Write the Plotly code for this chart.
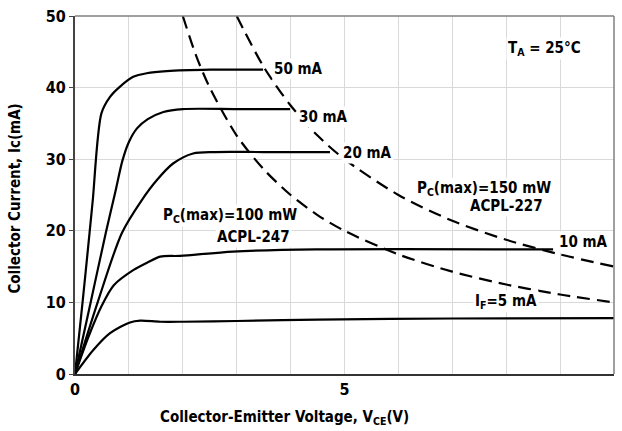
import plotly.graph_objects as go

# ---- data ----
x_50 = [0, 0.14, 0.27, 0.33, 0.49, 0.65, 0.83, 1.08, 1.33, 1.70, 2.5, 3.49]
y_50 = [0, 10, 19.7, 24.3, 36.4, 38.7, 40.1, 41.5, 42.0, 42.3, 42.5, 42.5]

x_30 = [0, 0.29, 0.58, 0.75, 0.88, 1.0, 1.15, 1.35, 1.64, 2.0, 3.0, 3.99]
y_30 = [0, 10, 20, 25.5, 29.8, 32.4, 34.3, 35.6, 36.6, 37.0, 37.0, 37.0]

x_20 = [0, 0.42, 0.87, 1.24, 1.52, 1.82, 2.19, 2.6, 3.5, 4.73]
y_20 = [0, 10, 19.7, 24.3, 27.1, 29.4, 30.8, 31.0, 31.0, 31.0]

x_10 = [0, 0.25, 0.50, 0.72, 1.08, 1.35, 1.58, 1.95, 2.93, 4.48, 8.87]
y_10 = [0, 5.2, 9.6, 12.4, 14.5, 15.6, 16.4, 16.5, 17.1, 17.4, 17.4]

x_5 = [0, 0.34, 0.65, 1.02, 1.21, 1.58, 2.0, 3.0, 4.5, 7.0, 10]
y_5 = [0, 3.35, 5.7, 7.2, 7.45, 7.3, 7.3, 7.4, 7.6, 7.75, 7.8]

x_p100 = [2.0, 2.25, 2.5, 3.0, 3.5, 4.0, 4.5, 5.0, 6.0, 7.0, 8.0, 9.0, 10.0]
y_p100 = [50, 44.4, 40, 33.3, 28.6, 25, 22.2, 20, 16.7, 14.3, 12.5, 11.1, 10]

x_p150 = [3.0, 3.5, 4.0, 4.5, 5.0, 6.0, 7.0, 8.0, 9.0, 10.0]
y_p150 = [50, 42.9, 37.5, 33.3, 30, 25, 21.4, 18.75, 16.7, 15]

x_ticks = [0, 1, 2, 3, 4, 5, 6, 7, 8, 9, 10]
x_ticktext = ["0", "", "", "", "", "5", "", "", "", "", "10"]
y_ticks = [0, 10, 20, 30, 40, 50]

FONT = "DejaVu Sans Condensed, Liberation Sans Narrow, Arial Narrow, sans-serif"

fig = go.Figure()
solid = dict(color="black", width=2.2, shape="spline", smoothing=0.8)
for xs, ys in [(x_50, y_50), (x_30, y_30), (x_20, y_20), (x_10, y_10), (x_5, y_5)]:
    fig.add_trace(go.Scatter(x=xs, y=ys, mode="lines", line=solid,
                             showlegend=False, hoverinfo="skip"))
dashed = dict(color="black", width=2.2, dash="13px,7px", shape="spline", smoothing=0.8)
for xs, ys in [(x_p100, y_p100), (x_p150, y_p150)]:
    fig.add_trace(go.Scatter(x=xs, y=ys, mode="lines", line=dashed,
                             showlegend=False, hoverinfo="skip"))

lab_font = dict(family=FONT, size=15, color="black", weight="bold")

def label(x, y, text, anchor="left"):
    fig.add_annotation(x=x, y=y, xref="x", yref="y", text=text, showarrow=False,
                       xanchor=anchor, yanchor="middle", font=lab_font,
                       bgcolor="white", borderpad=1)

label(3.65, 42.6, "50 mA")
label(4.11, 35.9, "30 mA")
label(4.93, 30.9, "20 mA")
label(8.94, 18.5, "10 mA")
label(7.99, 10.1, "I<sub>F</sub>=5 mA", "center")
label(2.88, 22.2, "P<sub>C</sub>(max)=100 mW", "center")
label(3.32, 19.2, "ACPL-247", "center")
label(7.58, 25.9, "P<sub>C</sub>(max)=150 mW", "center")
label(8.01, 23.4, "ACPL-227", "center")
label(8.71, 45.5, "T<sub>A</sub> = 25°C", "center")

# axis titles
fig.add_annotation(x=0.388, y=0, xref="paper", yref="paper", yshift=-43,
                   text="Collector-Emitter Voltage, V<sub>CE</sub>(V)", showarrow=False,
                   xanchor="center", yanchor="middle", font=lab_font)
fig.add_annotation(x=0, y=0.49, xref="paper", yref="paper", xshift=-60,
                   text="Collector Current, Ic(mA)", showarrow=False, textangle=-90,
                   xanchor="center", yanchor="middle", font=lab_font)

# top / right frame
fig.add_shape(type="line", xref="paper", yref="paper", x0=0, x1=1, y0=1, y1=1,
              line=dict(color="#808080", width=1.5))
fig.add_shape(type="line", xref="paper", yref="paper", x0=1, x1=1, y0=0, y1=1,
              line=dict(color="#808080", width=1.5))

tick_font = dict(family=FONT, size=16, color="black", weight="bold")
fig.update_xaxes(range=[0, 10], tickvals=x_ticks, ticktext=x_ticktext,
                 showgrid=True, gridcolor="#d9d9d9", gridwidth=1.2,
                 showline=True, linecolor="#333333", linewidth=2,
                 ticks="", tickfont=tick_font, zeroline=False)
fig.update_yaxes(range=[0, 50], tickvals=y_ticks,
                 showgrid=True, gridcolor="#d9d9d9", gridwidth=1.2,
                 showline=True, linecolor="#444444", linewidth=2,
                 ticks="outside", ticklen=4, tickcolor="#444444",
                 tickfont=tick_font, zeroline=False)

fig.update_layout(width=622, height=431, margin=dict(l=75, r=8, t=16, b=57),
                  paper_bgcolor="white", plot_bgcolor="white")

fig.write_html("out.html")
